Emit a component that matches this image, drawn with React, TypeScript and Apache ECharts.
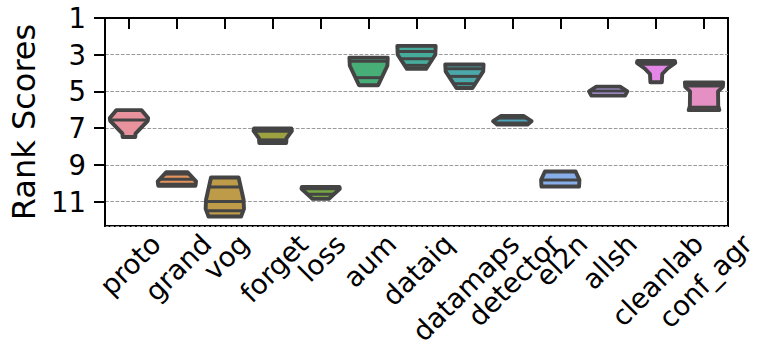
import React, { useEffect, useRef } from 'react';
import * as echarts from 'echarts';

// Categories (x axis)
const categories = ['proto', 'grand', 'vog', 'forget', 'loss', 'aum', 'dataiq', 'datamaps', 'detector', 'el2n', 'allsh', 'cleanlab', 'conf_agr'];

// Fill colours per violin
const colors = ['#e8929e', '#e3935c', '#bd9b48', '#9ea13f', '#78a846', '#47ae78', '#47ab9b', '#4aa8ab', '#4da5bb', '#88aeea', '#b49dea', '#e386e6', '#e590c4'];

// Violin outline profiles: rank values (top -> bottom) and relative half-width (1 = full violin width)
const profileRanks: number[][] = [
  [6.02, 6.45, 6.6, 7.3, 7.48],
  [9.4, 9.9, 10.14],
  [9.69, 10.9, 11.4, 11.81],
  [7.02, 7.15, 7.55, 7.81],
  [10.2, 10.3, 10.85],
  [3.16, 3.6, 4.66],
  [2.52, 3.0, 3.77],
  [3.53, 3.91, 4.81],
  [6.34, 6.62, 6.81],
  [9.36, 9.82, 10.18],
  [4.74, 5.0, 5.23],
  [3.34, 3.45, 3.75, 4.05, 4.5],
  [4.51, 4.75, 5.0, 5.8, 6.02],
];
const profileWidths: number[][] = [
  [0.66, 1.0, 0.98, 0.34, 0.33],
  [0.55, 1.0, 0.97],
  [0.72, 0.98, 1.0, 0.85],
  [0.98, 1.0, 0.72, 0.7],
  [0.98, 1.0, 0.43],
  [1.0, 0.98, 0.5],
  [1.0, 0.98, 0.5],
  [1.0, 0.98, 0.42],
  [0.6, 1.0, 0.78],
  [0.8, 1.0, 0.98],
  [0.62, 1.0, 0.88],
  [0.98, 1.0, 0.6, 0.32, 0.3],
  [1.0, 0.98, 0.73, 0.74, 0.8],
];
// Inner quartile lines (rank values)
const quartileLines: number[][] = [
  [6.55],
  [9.5, 9.78, 10.05],
  [10.2, 11.0, 11.5],
  [7.17, 7.64],
  [10.3, 10.6],
  [3.35, 4.25],
  [2.82, 3.22, 3.58],
  [3.77, 4.18, 4.58],
  [6.45, 6.72],
  [9.82],
  [4.98],
  [3.52],
  [4.6, 4.7, 5.86],
];

// Y axis: ranks 1 .. 12.33, ticks every 2 starting from 1 (axis value = rank - 1)
const RANK_OFFSET = 1;
const yMaxRank = 12.33;
const yTickStep = 2;

const OUTLINE = '#444444';
const FONT = '"DejaVu Sans", sans-serif';
const TICK_FONT_SIZE = 27.5;

function interp(rs: number[], ws: number[], q: number): number {
  if (q <= rs[0]) return ws[0];
  for (let k = 1; k < rs.length; k++) {
    if (q <= rs[k]) {
      const t = (q - rs[k - 1]) / (rs[k] - rs[k - 1]);
      return ws[k - 1] + t * (ws[k] - ws[k - 1]);
    }
  }
  return ws[ws.length - 1];
}

export default function App() {
  const ref = useRef<HTMLDivElement>(null);
  useEffect(() => {
    const chart = echarts.init(ref.current!, null, { renderer: 'svg' });
    const option: any = {
      animation: false,
      grid: { left: 99, right: 33, top: 18, bottom: 124, show: true, borderColor: '#000', borderWidth: 2 },
      xAxis: {
        type: 'category',
        data: categories,
        boundaryGap: true,
        axisLine: { lineStyle: { color: '#000', width: 2 } },
        axisTick: { show: true, alignWithLabel: true, interval: 0, length: 11, lineStyle: { color: '#000', width: 2 } },
        axisLabel: { show: false, interval: 0 },
        splitLine: { show: false },
      },
      yAxis: {
        type: 'value',
        inverse: true,
        min: 0,
        max: yMaxRank - RANK_OFFSET,
        interval: yTickStep,
        name: 'Rank Scores',
        nameLocation: 'middle',
        nameGap: 65,
        nameTextStyle: { fontSize: 32, fontFamily: FONT, color: '#000' },
        axisLine: { show: true, lineStyle: { color: '#000', width: 2 } },
        axisTick: { show: true, length: 11, lineStyle: { color: '#000', width: 2 } },
        axisLabel: {
          fontSize: TICK_FONT_SIZE,
          fontFamily: FONT,
          color: '#000',
          margin: 19,
          formatter: (v: number) => String(v + RANK_OFFSET),
        },
        splitLine: { show: true, lineStyle: { color: '#9a9a9a', width: 1, type: [3.7, 1.6] } },
      },
      series: [
        {
          type: 'custom',
          clip: false,
          data: categories.map((_, i) => [i, profileRanks[i][0] - RANK_OFFSET]),
          encode: { x: 0, y: 1 },
          renderItem: (params: any, api: any) => {
            const i = params.dataIndex;
            const cx = api.coord([i, 0])[0];
            const band = api.size([1, 0])[0];
            const hw = band * 0.4;
            const rs = profileRanks[i];
            const ws = profileWidths[i];
            const right = rs.map((r, k) => [cx + ws[k] * hw, api.coord([i, r - RANK_OFFSET])[1]]);
            const left = rs.map((r, k) => [cx - ws[k] * hw, api.coord([i, r - RANK_OFFSET])[1]]).reverse();
            const children: any[] = [
              {
                type: 'polygon',
                shape: { points: [...right, ...left] },
                style: { fill: colors[i], stroke: OUTLINE, lineWidth: 3.9, lineJoin: 'round' },
              },
            ];
            quartileLines[i].forEach((q) => {
              const w = interp(rs, ws, q) * hw;
              const y = api.coord([i, q - RANK_OFFSET])[1];
              children.push({
                type: 'line',
                shape: { x1: cx - w, y1: y, x2: cx + w, y2: y },
                style: { stroke: OUTLINE, lineWidth: 3 },
              });
            });
            return { type: 'group', children };
          },
        },
      ],
    };
    chart.setOption(option);

    // Rotated (45°) x tick labels centred under each tick, matplotlib-style
    const canvas = document.createElement('canvas');
    const ctx = canvas.getContext('2d')!;
    ctx.font = `${TICK_FONT_SIZE}px ${FONT}`;
    const axisBottom = chart.convertToPixel({ yAxisIndex: 0 }, yMaxRank - RANK_OFFSET) as number;
    const labelTop = axisBottom + 3.5;
    const H = TICK_FONT_SIZE * 0.97;
    const s = Math.SQRT1_2;
    const elements = categories.map((c) => {
      const x = (chart.convertToPixel({ xAxisIndex: 0 }, c) as number) + 1;
      const L = ctx.measureText(c).width;
      const hRot = (L + H) * s;
      return {
        type: 'text',
        x,
        y: labelTop + hRot / 2,
        rotation: Math.PI / 4,
        style: {
          text: c,
          fontSize: TICK_FONT_SIZE,
          fontFamily: FONT,
          fill: '#000',
          align: 'center',
          verticalAlign: 'middle',
          textAlign: 'center',
          textVerticalAlign: 'middle',
        },
      };
    });
    chart.setOption({ graphic: { elements } });

    return () => chart.dispose();
  }, []);
  return <div ref={ref} style={{ position: 'absolute', left: 0, top: 0, width: 761, height: 350 }} />;
}
